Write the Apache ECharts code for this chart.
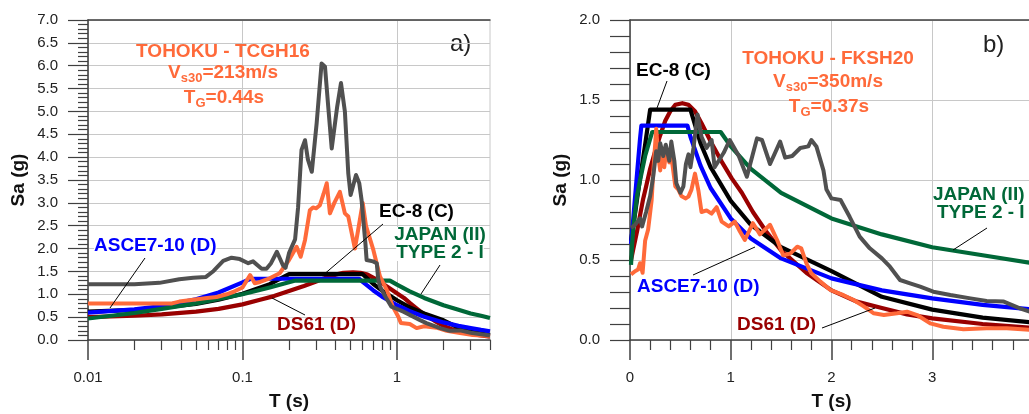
<!DOCTYPE html>
<html>
<head>
<meta charset="utf-8">
<script src="https://cdn.jsdelivr.net/npm/echarts@6/dist/echarts.min.js"></script>
<style>
  html, body { margin: 0; padding: 0; background: #fff; }
  #chart { width: 1029px; height: 414px; }
</style>
</head>
<body>
<div id="chart"></div>
<script>
// ---- code spectra (same in both panels) : [T (s), Sa (g)]
var ec8 = [[0.01,0.62],[0.02,0.66],[0.03,0.71],[0.05,0.79],[0.07,0.88],[0.1,1.01],[0.15,1.22],[0.2,1.44],[0.6,1.44],[0.7,1.23],[0.8,1.08],[1.0,0.87],[1.2,0.72],[1.5,0.58],[2.0,0.43],[2.5,0.27],[3.0,0.19],[3.5,0.14],[4.0,0.11]];
var asce = [[0.01,0.6],[0.02,0.67],[0.03,0.74],[0.05,0.89],[0.07,1.04],[0.1,1.26],[0.113,1.34],[0.57,1.34],[0.6,1.27],[0.7,1.09],[0.8,0.95],[1.0,0.76],[1.2,0.635],[1.5,0.51],[2.0,0.385],[2.5,0.31],[3.0,0.26],[3.5,0.22],[4.0,0.19]];
var ds61 = [[0.01,0.5],[0.02,0.53],[0.03,0.56],[0.05,0.62],[0.07,0.68],[0.1,0.78],[0.13,0.88],[0.16,0.96],[0.2,1.07],[0.25,1.18],[0.3,1.28],[0.35,1.37],[0.4,1.43],[0.45,1.47],[0.52,1.48],[0.58,1.47],[0.645,1.43],[0.71,1.355],[0.81,1.23],[0.91,1.115],[1.01,1.01],[1.11,0.92],[1.22,0.8],[1.35,0.68],[1.5,0.56],[1.75,0.42],[2.0,0.31],[2.25,0.24],[2.5,0.2],[2.75,0.16],[3.0,0.135],[3.5,0.1],[4.0,0.075]];
var japan = [[0.01,0.47],[0.02,0.59],[0.03,0.68],[0.05,0.8],[0.07,0.9],[0.1,1.0],[0.15,1.15],[0.22,1.3],[0.9,1.3],[1.0,1.21],[1.2,1.07],[1.5,0.92],[2.0,0.76],[2.5,0.66],[3.0,0.58],[3.5,0.53],[4.0,0.48]];

// ---- a) TOHOKU - TCGH16 records
var tcghGray = [[0.01,1.22],[0.02,1.22],[0.029,1.25],[0.039,1.33],[0.048,1.36],[0.058,1.38],[0.065,1.51],[0.075,1.73],[0.085,1.8],[0.096,1.77],[0.109,1.68],[0.117,1.72],[0.133,1.56],[0.143,1.56],[0.153,1.68],[0.167,1.93],[0.183,1.63],[0.19,1.58],[0.2,1.9],[0.219,2.2],[0.229,2.9],[0.241,4.16],[0.254,4.37],[0.265,3.95],[0.281,3.68],[0.302,4.74],[0.325,6.05],[0.342,5.98],[0.359,5.1],[0.378,4.19],[0.41,5.1],[0.434,5.62],[0.46,5.0],[0.484,3.64],[0.501,3.17],[0.543,3.61],[0.57,3.43],[0.59,3.06],[0.625,2.1],[0.636,1.75],[0.7,1.72],[0.74,1.68],[0.755,1.35],[0.776,1.17],[0.84,0.95],[0.92,0.73],[1.0,0.68],[1.1,0.62],[1.21,0.55],[1.4,0.44],[1.55,0.37],[1.9,0.26],[2.2,0.2],[2.56,0.21],[3.0,0.16],[4.0,0.1]];
var tcghOrange = [[0.01,0.8],[0.035,0.8],[0.039,0.84],[0.048,0.88],[0.059,0.92],[0.068,0.94],[0.079,1.0],[0.087,1.05],[0.1,1.15],[0.112,1.42],[0.12,1.24],[0.13,1.27],[0.15,1.35],[0.174,1.46],[0.2,1.75],[0.224,2.04],[0.238,1.82],[0.254,2.19],[0.273,2.84],[0.286,2.9],[0.3,2.88],[0.317,2.95],[0.335,3.2],[0.351,3.43],[0.368,2.77],[0.393,3.0],[0.427,3.24],[0.46,2.77],[0.484,2.7],[0.534,2.0],[0.56,2.4],[0.6,3.0],[0.63,2.5],[0.703,1.97],[0.776,1.39],[0.86,1.09],[0.94,0.73],[1.02,0.51],[1.06,0.37],[1.21,0.35],[1.34,0.26],[1.5,0.3],[1.8,0.27],[2.1,0.2],[2.56,0.15],[3.1,0.11],[4.0,0.09]];

// ---- b) TOHOKU - FKSH20 records
var fkshGray = [[0.01,0.7],[0.05,0.72],[0.1,0.76],[0.12,0.71],[0.16,0.8],[0.2,0.9],[0.23,1.02],[0.26,1.18],[0.28,1.12],[0.3,1.23],[0.33,1.15],[0.355,1.22],[0.39,1.12],[0.41,1.24],[0.44,1.12],[0.46,0.98],[0.5,0.92],[0.53,0.96],[0.555,1.1],[0.58,1.16],[0.6,1.08],[0.63,1.2],[0.67,1.41],[0.71,1.27],[0.76,1.2],[0.81,1.25],[0.84,1.08],[0.93,1.17],[0.99,1.25],[1.08,1.15],[1.16,1.02],[1.26,1.26],[1.31,1.25],[1.39,1.1],[1.49,1.24],[1.54,1.14],[1.61,1.15],[1.69,1.2],[1.77,1.21],[1.8,1.25],[1.85,1.21],[1.92,1.06],[1.95,0.94],[2.0,0.885],[2.09,0.875],[2.18,0.77],[2.28,0.646],[2.38,0.573],[2.5,0.51],[2.58,0.458],[2.68,0.375],[2.78,0.354],[2.88,0.333],[3.01,0.302],[3.18,0.281],[3.38,0.26],[3.54,0.244],[3.71,0.24],[3.87,0.198],[4.0,0.17]];
var fkshOrange = [[0.01,0.41],[0.05,0.43],[0.08,0.44],[0.1,0.48],[0.125,0.42],[0.15,0.62],[0.18,0.69],[0.215,0.875],[0.23,1.04],[0.26,1.32],[0.28,1.15],[0.3,1.06],[0.31,1.2],[0.34,1.08],[0.36,1.19],[0.39,1.11],[0.41,1.15],[0.45,0.96],[0.48,0.94],[0.51,0.9],[0.55,0.885],[0.58,0.896],[0.61,0.94],[0.645,1.04],[0.68,0.93],[0.71,0.8],[0.76,0.81],[0.81,0.79],[0.86,0.83],[0.91,0.74],[0.98,0.71],[1.04,0.74],[1.09,0.68],[1.14,0.625],[1.22,0.73],[1.29,0.66],[1.39,0.72],[1.46,0.625],[1.52,0.53],[1.59,0.54],[1.66,0.583],[1.7,0.573],[1.75,0.48],[1.8,0.417],[1.89,0.365],[1.99,0.3125],[2.12,0.28],[2.22,0.25],[2.32,0.21],[2.42,0.167],[2.52,0.156],[2.65,0.167],[2.75,0.177],[2.85,0.156],[2.98,0.104],[3.11,0.083],[3.31,0.067],[3.54,0.073],[3.74,0.073],[4.0,0.0625]];

// tick values for the log axis of panel a
var logMajorTicks = [0.01, 0.1, 1];
var logMinorTicks = [0.02,0.03,0.04,0.05,0.06,0.07,0.08,0.09,0.2,0.3,0.4,0.5,0.6,0.7,0.8,0.9,2,3,4];

var FONT = '"Liberation Sans", Arial, sans-serif';
var C = {
  ec8: '#000000',
  asce: '#0000ff',
  ds61: '#990000',
  japan: '#006838',
  orange: '#ff6a3a',
  gray: '#505050',
  grid: '#c8c8c8',
  axis: '#404040'
};

var chart = echarts.init(document.getElementById('chart'));

function yAxisOf(gridIndex, max, minorLen) {
  return {
    type: 'value', gridIndex: gridIndex, min: 0, max: max, interval: 0.5,
    axisLine: { show: true, lineStyle: { color: C.axis, width: 1.5 } },
    axisTick: { show: true, inside: false, length: 20, lineStyle: { color: C.axis, width: 1.2 } },
    minorTick: { show: true, splitNumber: 5, length: minorLen, lineStyle: { color: C.axis, width: 1.2 } },
    axisLabel: { margin: 30, fontFamily: FONT, fontSize: 15, color: '#222', formatter: function (v) { return v.toFixed(1); } },
    splitLine: { show: true, lineStyle: { color: C.grid, width: 1 } },
    name: 'Sa (g)', nameLocation: 'middle', nameGap: 60,
    nameTextStyle: { fontFamily: FONT, fontSize: 19, fontWeight: 'bold', color: '#111' }
  };
}

function topBorder(gridIndex) {
  return {
    type: 'value', gridIndex: gridIndex, position: 'top', min: 0, max: 1,
    axisLine: { show: true, onZero: false, lineStyle: { color: C.axis, width: 1.5 } },
    axisTick: { show: false }, axisLabel: { show: false }, splitLine: { show: false }
  };
}

var xName = {
  name: 'T (s)', nameLocation: 'middle', nameGap: 52,
  nameTextStyle: { fontFamily: FONT, fontSize: 19, fontWeight: 'bold', color: '#111' }
};
var xLabel = { margin: 30, fontFamily: FONT, fontSize: 15, color: '#222' };

function line(name, data, color, xi, yi, width) {
  return {
    name: name, type: 'line', data: data, xAxisIndex: xi, yAxisIndex: yi,
    showSymbol: false, symbol: 'none', silent: true,
    lineStyle: { color: color, width: width, join: 'round' },
    itemStyle: { color: color }
  };
}

function seriesFor(xi, yi, gray, orange) {
  return [
    line('DS61 (D)', ds61, C.ds61, xi, yi, 4.2),
    line('EC-8 (C)', ec8, C.ec8, xi, yi, 4.2),
    line('ASCE7-10 (D)', asce, C.asce, xi, yi, 4.2),
    line('JAPAN (II) TYPE 2 - I', japan, C.japan, xi, yi, 4.2),
    line('orange', orange, C.orange, xi, yi, 4),
    line('gray', gray, C.gray, xi, yi, 4)
  ];
}

// annotation helpers
function label(x, y, text, color, align, bg) {
  return {
    type: 'text', x: x, y: y, silent: true, z: 10,
    style: {
      text: text, fill: color, font: 'bold 19px ' + FONT, align: align || 'left', verticalAlign: 'middle',
      lineHeight: 16, backgroundColor: bg ? '#fff' : 'transparent'
    }
  };
}
function subLabel(x, y, parts, color) {
  var txt = '';
  parts.forEach(function (p, i) { txt += (i % 2 ? '{s|' : '{m|') + p + '}'; });
  return {
    type: 'text', x: x, y: y, silent: true, z: 10,
    style: {
      text: txt, align: 'center', verticalAlign: 'middle',
      rich: {
        m: { fontFamily: FONT, fontSize: 19, fontWeight: 'bold', fill: color, lineHeight: 24 },
        s: { fontFamily: FONT, fontSize: 13, fontWeight: 'bold', fill: color, lineHeight: 13, verticalAlign: 'bottom' }
      }
    }
  };
}
function leader(x1, y1, x2, y2) {
  return { type: 'line', silent: true, z: 10, shape: { x1: x1, y1: y1, x2: x2, y2: y2 }, style: { stroke: '#000', lineWidth: 1 } };
}
function panelTag(x, y, text) {
  return { type: 'text', x: x, y: y, silent: true, style: { text: text, fill: '#222', font: '24px ' + FONT, align: 'left', verticalAlign: 'middle' } };
}

var option = {
  animation: false,
  backgroundColor: '#fff',
  grid: [
    { left: 88, top: 20, width: 402, height: 320, outerBoundsMode: 'none', containLabel: false, show: true, borderColor: C.grid, borderWidth: 1 },
    { left: 630, top: 20, width: 403, height: 320, outerBoundsMode: 'none', containLabel: false, show: false }
  ],
  xAxis: [
    Object.assign({
      type: 'log', logBase: 10, gridIndex: 0, position: 'bottom', min: 0.01, max: 4,
      axisLine: { show: true, onZero: false, lineStyle: { color: C.axis, width: 1.5 } },
      axisTick: { show: true, length: 20, customValues: logMajorTicks, lineStyle: { color: C.axis, width: 1.5 } },
      axisLabel: Object.assign({ customValues: logMajorTicks }, xLabel),
      splitLine: { show: true, lineStyle: { color: C.grid, width: 1 } }
    }, xName),
    {
      type: 'log', logBase: 10, gridIndex: 0, position: 'bottom', min: 0.01, max: 4,
      axisLine: { show: false, onZero: false },
      axisTick: { show: true, length: 10, customValues: logMinorTicks, lineStyle: { color: C.axis, width: 1.2 } },
      axisLabel: { show: false }, splitLine: { show: false }
    },
    topBorder(0),
    Object.assign({
      type: 'value', gridIndex: 1, position: 'bottom', min: 0, max: 4, interval: 1,
      axisLine: { show: true, onZero: false, lineStyle: { color: C.axis, width: 1.5 } },
      axisTick: { show: true, length: 20, lineStyle: { color: C.axis, width: 1.5 } },
      minorTick: { show: true, splitNumber: 5, length: 10, lineStyle: { color: C.axis, width: 1.2 } },
      axisLabel: xLabel,
      splitLine: { show: true, lineStyle: { color: C.grid, width: 1 } }
    }, xName),
    topBorder(1)
  ],
  yAxis: [yAxisOf(0, 7, 10), yAxisOf(1, 2, 20)],
  series: seriesFor(0, 0, tcghGray, tcghOrange).concat(seriesFor(3, 1, fkshGray, fkshOrange)),
  graphic: [
    // panel a)
    label(223, 52, 'TOHOKU - TCGH16', C.orange, 'center'),
    subLabel(223, 73, ['V', 's30', '=213m/s'], C.orange),
    subLabel(224, 98, ['T', 'G', '=0.44s'], C.orange),
    panelTag(450, 44, 'a)'),
    label(94, 246, 'ASCE7-10 (D)', C.asce, 'left', true),
    leader(145, 258, 110, 308),
    label(379, 212, 'EC-8 (C)', C.ec8),
    leader(383, 224, 322, 276),
    label(440, 235, 'JAPAN (II)', C.japan, 'center', true),
    label(440, 253, 'TYPE 2 - I', C.japan, 'center', true),
    leader(440, 265, 421, 294),
    label(277, 325, 'DS61 (D)', C.ds61),
    leader(305, 315, 272, 298),
    // panel b)
    label(828, 59, 'TOHOKU - FKSH20', C.orange, 'center'),
    subLabel(828, 82, ['V', 's30', '=350m/s'], C.orange),
    subLabel(829, 107, ['T', 'G', '=0.37s'], C.orange),
    panelTag(983, 45, 'b)'),
    label(636, 71, 'EC-8 (C)', C.ec8),
    leader(667, 81, 657, 108),
    label(933, 195, 'JAPAN (II)', C.japan),
    label(937, 213, 'TYPE 2 - I', C.japan),
    leader(987, 228, 953, 250),
    label(637, 287, 'ASCE7-10 (D)', C.asce),
    leader(693, 275, 755, 247),
    label(737, 325, 'DS61 (D)', C.ds61),
    leader(822, 328, 875, 308)
  ]
};

chart.setOption(option);
</script>
</body>
</html>
